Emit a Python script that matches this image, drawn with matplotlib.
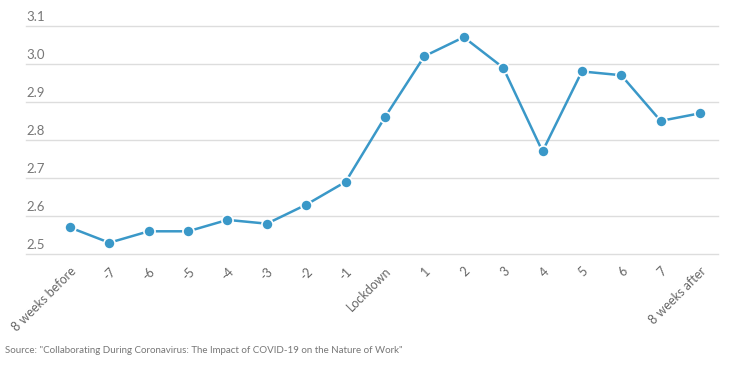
import matplotlib
matplotlib.use("Agg")
import matplotlib.pyplot as plt

# Data
weeks = ["8 weeks before", "-7", "-6", "-5", "-4", "-3", "-2", "-1", "Lockdown",
         "1", "2", "3", "4", "5", "6", "7", "8 weeks after"]
values = [2.57, 2.53, 2.56, 2.56, 2.59, 2.58, 2.63, 2.69, 2.86,
          3.02, 3.07, 2.99, 2.77, 2.98, 2.97, 2.85, 2.87]
yticks = [2.5, 2.6, 2.7, 2.8, 2.9, 3.0, 3.1]

plt.rcParams['font.family'] = ['Lato', 'DejaVu Sans']

fig = plt.figure(figsize=(7.3, 3.71), dpi=100)
ax = fig.add_axes([0.0356, 0.315, 0.948, 0.672])

x = list(range(len(weeks)))
ax.plot(x, values, color="#3a98c8", linewidth=1.8, marker="o", markersize=8,
        markerfacecolor="#3a98c8", markeredgecolor="white", markeredgewidth=1.2, zorder=3)

ax.set_xlim(-1.117, 16.457)
ax.set_ylim(2.5, 3.155)

for t in yticks:
    ax.axhline(t, color="#dddddd", linewidth=1, zorder=1, clip_on=False)
    ax.text(0, t + 0.008, f"{t:.1f}", transform=ax.get_yaxis_transform(),
            ha="left", va="bottom", fontsize=9.5, color="#777777")

ax.set_yticks([])
ax.set_xticks(x)
ax.set_xticklabels(weeks, rotation=45, ha="right", rotation_mode="anchor",
                   fontsize=9, color="#666666")
ax.tick_params(axis="x", length=0, pad=8)
for s in ax.spines.values():
    s.set_visible(False)

fig.text(0.007, 0.055, "Source: \"Collaborating During Coronavirus: The Impact of COVID-19 on the Nature of Work\"",
         fontsize=7, color="#777777", ha="left", va="center")

plt.savefig("out.png", dpi=100)
